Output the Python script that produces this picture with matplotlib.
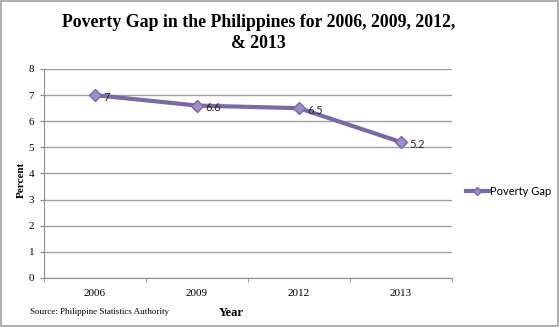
import matplotlib
matplotlib.use("Agg")
import matplotlib.pyplot as plt
from matplotlib.patches import Rectangle

years = ["2006", "2009", "2012", "2013"]
values = [7.0, 6.6, 6.5, 5.2]
labels = ["7", "6.6", "6.5", "5.2"]
yticks = [0, 1, 2, 3, 4, 5, 6, 7, 8]

fig = plt.figure(figsize=(5.59, 3.27), dpi=100)
fig.patches.append(Rectangle((0.002, 0.003), 0.996, 0.994, transform=fig.transFigure,
                             fill=False, edgecolor="#a0a0a0", linewidth=1.2))
ax = fig.add_axes([0.0787, 0.150, 0.7299, 0.639])

x = list(range(len(years)))
line, = ax.plot(x, values, color="#7b68a6", linewidth=3, marker="D", markersize=6,
                markerfacecolor="#a08cc8", markeredgecolor="#7b68a6", markeredgewidth=1,
                label="Poverty Gap", zorder=3)
for xi, v, lab in zip(x, values, labels):
    ax.annotate(lab, (xi, v), xytext=(6, -1.5), textcoords="offset points",
                fontsize=8, family="Lato", color="#222222", va="center", ha="left")

ax.set_xlim(-0.5, len(years) - 0.5)
ax.set_ylim(0, 8)
ax.set_yticks(yticks)
ax.set_yticklabels([str(t) for t in yticks], family="Liberation Serif", fontsize=8)
ax.set_xticks(x)
ax.set_xticklabels(years, family="Liberation Serif", fontsize=8)
ax.tick_params(axis="x", length=0, pad=8)
ax.tick_params(axis="y", length=3, color="#888888", pad=4)
ax.set_xticks([i + 0.5 for i in range(-1, len(years))], minor=True)
ax.tick_params(axis="x", which="minor", length=3, color="#888888", direction="out")
ax.grid(axis="y", color="#a0a0a0", linewidth=1)
ax.set_axisbelow(True)
for s in ["top", "right"]:
    ax.spines[s].set_visible(False)
for s in ["left", "bottom"]:
    ax.spines[s].set_color("#909090")

ax.set_ylabel("Percent", family="Liberation Serif", fontweight="bold", fontsize=8)
ax.yaxis.set_label_coords(-0.045, 0.47)
ax.set_xlabel("Year", family="Liberation Serif", fontweight="bold", fontsize=9)
ax.xaxis.set_label_coords(0.46, -0.14)

fig.text(0.462, 0.958, "Poverty Gap in the Philippines for 2006, 2009, 2012,\n& 2013",
         ha="center", va="top", family="Liberation Serif", fontweight="bold",
         fontsize=12.8, linespacing=1.35)
fig.text(0.054, 0.046, "Source: Philippine Statistics Authority", family="Liberation Serif",
         fontsize=6.5, ha="left", va="center")

ax.legend(handles=[line], loc="center left", bbox_to_anchor=(1.035, 0.415), frameon=False,
          prop={"family": "Lato", "size": 8}, handlelength=2.0, handletextpad=0.1,
          borderaxespad=0, markerscale=0.7, borderpad=0)

fig.savefig("out.png", dpi=100)
